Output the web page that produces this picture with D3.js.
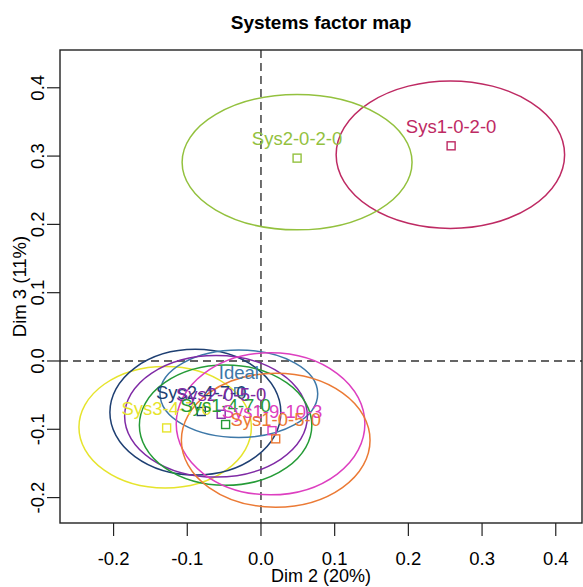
<!DOCTYPE html>
<html>
  <head>
    <meta charset="utf-8">
    <script src="https://d3js.org/d3.v7.min.js"></script>
    <style>
      body { margin: 0; background: #fff; }
      text { font-family: "Liberation Sans", Arial, sans-serif; }
    </style>
  </head>
  <body>
    <script>
      // systems, in drawing order
      var systems = ["Sys1-0-2-0", "Sys2-0-2-0", "Sys3-4-7-0", "Sys2-4-7-0", "Ideal",
                     "Sys2-0-5-0", "Sys1-4-7-0", "Sys1-9-10-3", "Sys1-0-5-0"];
      var colors  = ["#BE2A63", "#93C13E", "#E6E42C", "#1E3F72", "#3D78A8",
                     "#7F2AA5", "#259B37", "#DD3FC0", "#EB7A35"];
      // point coordinates
      var dim2 = [0.258, 0.049, -0.128, -0.081, -0.030, -0.054, -0.048, 0.015, 0.020];
      var dim3 = [0.315, 0.297, -0.098, -0.074, -0.045, -0.078, -0.093, -0.102, -0.114];
      // confidence ellipses: centre and half axes
      var ellX  = [0.257, 0.049, -0.130, -0.089, -0.030, -0.061, -0.048, 0.013, 0.020];
      var ellY  = [0.302, 0.291, -0.097, -0.075, -0.048, -0.081, -0.094, -0.092, -0.116];
      var ellRx = [0.155, 0.156, 0.117, 0.116, 0.107, 0.124, 0.117, 0.128, 0.128];
      var ellRy = [0.108, 0.099, 0.089, 0.092, 0.064, 0.089, 0.088, 0.104, 0.098];

      var xTicks = [-0.2, -0.1, 0.0, 0.1, 0.2, 0.3, 0.4];
      var yTicks = [-0.2, -0.1, 0.0, 0.1, 0.2, 0.3, 0.4];

      var W = 583, H = 587;
      var mLeft = 60, mRight = 582, mTop = 50, mBottom = 523;

      var x = d3.scaleLinear().domain([-0.2727, 0.4356]).range([mLeft, mRight]);
      var y = d3.scaleLinear().domain([-0.2372, 0.4553]).range([mBottom, mTop]);
      var fmt = function(d) { return d3.format(".1f")(d).replace("\u2212", "-"); };

      var svg = d3.select("body").append("svg")
          .attr("width", W)
          .attr("height", H);

      svg.append("clipPath").attr("id", "plot")
        .append("rect")
          .attr("x", mLeft).attr("y", mTop)
          .attr("width", mRight - mLeft).attr("height", mBottom - mTop);

      // title
      svg.append("text")
          .attr("x", (mLeft + mRight) / 2)
          .attr("y", 29)
          .attr("text-anchor", "middle")
          .style("font-weight", "bold")
          .style("font-size", "19px")
          .text("Systems factor map");

      // x axis
      var xa = svg.append("g");
      xa.selectAll("line").data(xTicks).enter().append("line")
          .attr("x1", function(d) { return x(d); })
          .attr("x2", function(d) { return x(d); })
          .attr("y1", mBottom).attr("y2", mBottom + 13)
          .attr("stroke", "#222").attr("stroke-width", 1.2);
      xa.selectAll("text").data(xTicks).enter().append("text")
          .attr("x", function(d) { return x(d); })
          .attr("y", 565)
          .attr("text-anchor", "middle")
          .style("font-size", "18.5px")
          .text(fmt);
      svg.append("text")
          .attr("x", (mLeft + mRight) / 2)
          .attr("y", 582)
          .attr("text-anchor", "middle")
          .style("font-size", "18px")
          .text("Dim 2 (20%)");

      // y axis
      var ya = svg.append("g");
      ya.selectAll("line").data(yTicks).enter().append("line")
          .attr("y1", function(d) { return y(d); })
          .attr("y2", function(d) { return y(d); })
          .attr("x1", mLeft).attr("x2", mLeft - 13)
          .attr("stroke", "#222").attr("stroke-width", 1.2);
      ya.selectAll("text").data(yTicks).enter().append("text")
          .attr("transform", function(d) { return "translate(44," + y(d) + ") rotate(-90)"; })
          .attr("text-anchor", "middle")
          .style("font-size", "18.5px")
          .text(fmt);
      svg.append("text")
          .attr("transform", "translate(26," + (mTop + mBottom) / 2 + ") rotate(-90)")
          .attr("text-anchor", "middle")
          .style("font-size", "18.5px")
          .text("Dim 3 (11%)");

      var plot = svg.append("g").attr("clip-path", "url(#plot)");

      // reference lines at zero
      plot.append("line")
          .attr("x1", mLeft).attr("x2", mRight)
          .attr("y1", y(0)).attr("y2", y(0))
          .attr("stroke", "#333").attr("stroke-width", 1.4)
          .attr("stroke-dasharray", "8,5");
      plot.append("line")
          .attr("x1", x(0)).attr("x2", x(0))
          .attr("y1", mTop).attr("y2", mBottom)
          .attr("stroke", "#333").attr("stroke-width", 1.4)
          .attr("stroke-dasharray", "8,5");

      var idx = d3.range(systems.length);

      // ellipses
      plot.selectAll(".ell").data(idx).enter().append("ellipse")
          .attr("class", "ell")
          .attr("cx", function(i) { return x(ellX[i]); })
          .attr("cy", function(i) { return y(ellY[i]); })
          .attr("rx", function(i) { return x(ellRx[i]) - x(0); })
          .attr("ry", function(i) { return y(0) - y(ellRy[i]); })
          .attr("fill", "none")
          .attr("stroke", function(i) { return colors[i]; })
          .attr("stroke-width", 1.5);

      // points
      plot.selectAll(".pt").data(idx).enter().append("rect")
          .attr("class", "pt")
          .attr("x", function(i) { return x(dim2[i]) - 4; })
          .attr("y", function(i) { return y(dim3[i]) - 4; })
          .attr("width", 8).attr("height", 8)
          .attr("fill", "none")
          .attr("stroke", function(i) { return colors[i]; })
          .attr("stroke-width", 1.4);

      // labels
      plot.selectAll(".lab").data(idx).enter().append("text")
          .attr("class", "lab")
          .attr("x", function(i) { return x(dim2[i]); })
          .attr("y", function(i) { return y(dim3[i]) - 13; })
          .attr("text-anchor", "middle")
          .style("font-size", "18.5px")
          .attr("fill", function(i) { return colors[i]; })
          .text(function(i) { return systems[i]; });

      // box
      svg.append("rect")
          .attr("x", mLeft).attr("y", mTop)
          .attr("width", mRight - mLeft).attr("height", mBottom - mTop)
          .attr("fill", "none")
          .attr("stroke", "#222").attr("stroke-width", 1.4);
    </script>
  </body>
</html>
